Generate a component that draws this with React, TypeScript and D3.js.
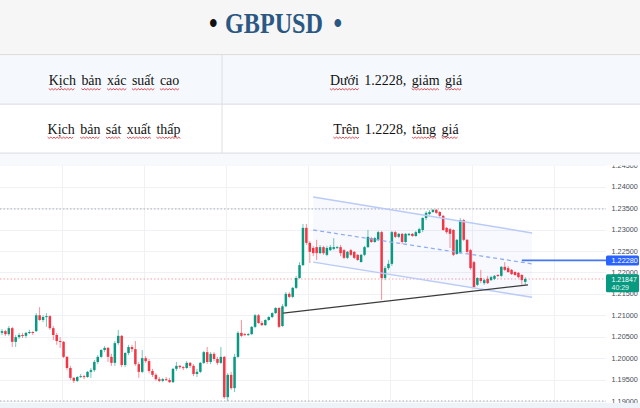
import React, { useEffect, useRef } from 'react';
import * as d3 from 'd3';

const TITLE = 'GBPUSD';
const ROW_LABELS = ['Kịch bản xác suất cao', 'Kịch bản sát xuất thấp'];
const ROW_VALUES = ['Dưới 1.2228, giảm giá', 'Trên 1.2228, tăng giá'];

const OPEN = [
  1.2059,1.2063,1.2056,1.2070,1.2038,1.2049,1.2054,1.2052,1.2059,1.2061,
  1.2063,1.2100,1.2089,1.2096,1.2098,1.2070,1.2054,1.2040,1.2038,1.2003,
  1.1977,1.1954,1.1947,1.1956,1.1958,1.1956,1.1968,1.1972,1.1991,1.2003,
  1.2019,1.2024,1.2003,1.1989,1.2035,1.2052,1.1984,1.2012,1.2026,1.2021,
  1.1986,1.1968,1.2000,1.1993,1.1970,1.1961,1.1951,1.1947,1.1951,1.1949,
  1.1944,1.1975,1.1982,1.1979,1.1977,1.1989,1.1982,1.1963,1.1968,1.1989,
  1.2014,1.1991,1.2010,1.1998,1.1989,1.2003,1.1909,1.1961,1.1930,1.2003,
  1.2059,1.2056,1.2054,1.2056,1.2073,1.2100,1.2082,1.2077,1.2089,1.2096,
  1.2105,1.2117,1.2075,1.2121,1.2150,1.2143,1.2164,1.2187,1.2217,1.2304,
  1.2269,1.2257,1.2259,1.2245,1.2259,1.2241,1.2252,1.2255,1.2257,1.2259,
  1.2252,1.2234,1.2252,1.2248,1.2241,1.2224,1.2241,1.2259,1.2280,1.2271,
  1.2276,1.2294,1.2187,1.2210,1.2220,1.2294,1.2283,1.2290,1.2271,1.2287,
  1.2290,1.2285,1.2292,1.2299,1.2327,1.2336,1.2341,1.2346,1.2341,1.2332,
  1.2304,1.2301,1.2299,1.2243,1.2245,1.2322,1.2276,1.2252,1.2224,1.2171,
  1.2187,1.2175,1.2185,1.2182,1.2185,1.2194,1.2192,1.2213,1.2210,1.2206,
  1.2201,1.2199,1.2194,1.2178,
];
const HIGH = [
  1.2068,1.2066,1.2075,1.2073,1.2054,1.2059,1.2059,1.2061,1.2066,1.2063,
  1.2105,1.2119,1.2100,1.2105,1.2100,1.2075,1.2059,1.2049,1.2040,1.2005,
  1.1982,1.1956,1.1958,1.1963,1.1961,1.1970,1.1977,1.1996,1.2007,1.2021,
  1.2028,1.2026,1.2010,1.2040,1.2066,1.2054,1.2014,1.2031,1.2031,1.2040,
  1.1991,1.2019,1.2005,1.1998,1.1975,1.1965,1.1956,1.1954,1.1956,1.1954,
  1.1977,1.1991,1.1984,1.1982,1.1993,1.1991,1.1986,1.1975,1.1991,1.2017,
  1.2026,1.2014,1.2014,1.2003,1.2026,1.2005,1.1965,1.1968,1.2010,1.2063,
  1.2089,1.2059,1.2059,1.2075,1.2103,1.2103,1.2087,1.2091,1.2098,1.2107,
  1.2119,1.2119,1.2126,1.2154,1.2154,1.2166,1.2192,1.2224,1.2313,1.2313,
  1.2273,1.2262,1.2276,1.2264,1.2262,1.2262,1.2264,1.2280,1.2262,1.2264,
  1.2255,1.2250,1.2255,1.2250,1.2243,1.2243,1.2262,1.2299,1.2283,1.2283,
  1.2297,1.2297,1.2215,1.2229,1.2297,1.2297,1.2292,1.2292,1.2292,1.2292,
  1.2292,1.2297,1.2304,1.2329,1.2343,1.2346,1.2348,1.2348,1.2343,1.2334,
  1.2306,1.2304,1.2301,1.2278,1.2327,1.2325,1.2278,1.2255,1.2227,1.2189,
  1.2206,1.2185,1.2192,1.2192,1.2194,1.2196,1.2215,1.2224,1.2215,1.2208,
  1.2203,1.2201,1.2196,1.2189,
];
const LOW = [
  1.2054,1.2052,1.2052,1.2026,1.2026,1.2045,1.2047,1.2047,1.2056,1.2054,
  1.2061,1.2087,1.2084,1.2073,1.2066,1.2042,1.2031,1.2024,1.2000,1.1972,
  1.1949,1.1942,1.1944,1.1954,1.1951,1.1954,1.1954,1.1968,1.1986,1.2000,
  1.2014,1.1991,1.1982,1.1982,1.2031,1.1979,1.1979,1.2007,1.2014,1.1982,
  1.1954,1.1965,1.1989,1.1965,1.1956,1.1947,1.1944,1.1944,1.1947,1.1942,
  1.1942,1.1970,1.1975,1.1972,1.1975,1.1977,1.1958,1.1956,1.1965,1.1986,
  1.1986,1.1986,1.1993,1.1984,1.1986,1.1905,1.1900,1.1926,1.1921,1.2000,
  1.2049,1.2052,1.2052,1.2054,1.2070,1.2080,1.2075,1.2075,1.2087,1.2093,
  1.2103,1.2070,1.2073,1.2119,1.2140,1.2140,1.2161,1.2185,1.2215,1.2264,
  1.2222,1.2238,1.2229,1.2243,1.2241,1.2238,1.2250,1.2252,1.2255,1.2238,
  1.2231,1.2231,1.2238,1.2231,1.2227,1.2224,1.2238,1.2257,1.2269,1.2269,
  1.2273,1.2136,1.2182,1.2206,1.2215,1.2280,1.2280,1.2266,1.2269,1.2285,
  1.2283,1.2283,1.2290,1.2294,1.2322,1.2334,1.2339,1.2336,1.2329,1.2297,
  1.2290,1.2257,1.2238,1.2241,1.2243,1.2273,1.2245,1.2206,1.2164,1.2168,
  1.2175,1.2171,1.2173,1.2180,1.2182,1.2189,1.2189,1.2203,1.2199,1.2194,
  1.2192,1.2187,1.2171,1.2171,
];
const CLOSE = [
  1.2063,1.2056,1.2070,1.2038,1.2049,1.2054,1.2052,1.2059,1.2061,1.2059,
  1.2100,1.2089,1.2096,1.2098,1.2070,1.2054,1.2040,1.2038,1.2003,1.1977,
  1.1954,1.1947,1.1956,1.1958,1.1956,1.1968,1.1972,1.1991,1.2003,1.2019,
  1.2024,1.2003,1.1989,1.2035,1.2052,1.1984,1.2012,1.2026,1.2021,1.1986,
  1.1968,1.2000,1.1993,1.1970,1.1961,1.1951,1.1947,1.1951,1.1949,1.1944,
  1.1975,1.1982,1.1979,1.1977,1.1989,1.1982,1.1963,1.1968,1.1989,1.2014,
  1.1991,1.2010,1.1998,1.1989,1.2003,1.1909,1.1961,1.1930,1.2003,1.2059,
  1.2052,1.2054,1.2056,1.2073,1.2100,1.2082,1.2077,1.2089,1.2096,1.2105,
  1.2117,1.2073,1.2121,1.2150,1.2143,1.2164,1.2187,1.2217,1.2304,1.2269,
  1.2248,1.2245,1.2245,1.2259,1.2245,1.2257,1.2259,1.2259,1.2259,1.2245,
  1.2234,1.2248,1.2241,1.2234,1.2229,1.2241,1.2259,1.2283,1.2271,1.2280,
  1.2294,1.2187,1.2210,1.2220,1.2294,1.2283,1.2290,1.2271,1.2290,1.2290,
  1.2285,1.2294,1.2301,1.2327,1.2339,1.2341,1.2346,1.2339,1.2332,1.2299,
  1.2294,1.2290,1.2241,1.2276,1.2322,1.2276,1.2248,1.2210,1.2166,1.2187,
  1.2180,1.2182,1.2175,1.2189,1.2192,1.2192,1.2213,1.2206,1.2201,1.2196,
  1.2194,1.2189,1.2182,1.21847,
];

const PRICE_TICKS = [1.19, 1.195, 1.2, 1.205, 1.21, 1.215, 1.22, 1.225, 1.23, 1.235, 1.24, 1.245];
const DAY_BREAKS = [17.5, 41.5, 65.5, 89.5, 113.5, 137.5, 161.5];

const LEVEL = 1.2228;
const LEVEL_START = 152;
const COUNTDOWN = '40:29';

const CHANNEL_IDX = [91, 155];
const CHANNEL_UPPER = [1.2376, 1.2292];
const CHANNEL_MID = [1.2299, 1.222];
const CHANNEL_LOWER = [1.2224, 1.2142];

const TREND_IDX = [82.2, 153.8];
const TREND_PRICE = [1.2105, 1.2171];

const UP = '#089981';
const DOWN = '#f23645';

export default function App() {
  const ref = useRef<SVGSVGElement>(null);

  useEffect(() => {
    document.body.style.margin = '0';
    const svg = d3.select(ref.current);
    svg.selectAll('*').remove();
    const W = 640, H = 408;

    // ---------- header ----------
    svg.append('rect').attr('x', 0).attr('y', 0).attr('width', W).attr('height', 54).attr('fill', '#f6f6f6');
    svg.append('rect').attr('x', 0).attr('y', 54).attr('width', W).attr('height', 1.5).attr('fill', '#dedede');
    const serif = '"Liberation Serif", "Times New Roman", serif';
    const title = svg.append('g').attr('transform', 'translate(0,33) scale(1,1.16)');
    title.append('text').attr('x', 209).attr('y', 0).attr('font-family', serif).attr('font-weight', 'bold')
      .attr('font-size', 24.5).attr('fill', '#111').text('•');
    title.append('text').attr('x', 225).attr('y', 0).attr('font-family', serif).attr('font-weight', 'bold')
      .attr('font-size', 24.5).attr('fill', '#2b5882').attr('textLength', 98).attr('lengthAdjust', 'spacingAndGlyphs').text(TITLE);
    title.append('text').attr('x', 333.5).attr('y', 0).attr('font-family', serif).attr('font-weight', 'bold')
      .attr('font-size', 24.5).attr('fill', '#2b5882').text('•');

    // ---------- table ----------
    const rowTop = [55.5, 104];
    const rowH = [48, 48.5];
    const rowBg = ['#f5f9fe', '#ffffff'];
    rowTop.forEach((t, i) => {
      svg.append('rect').attr('x', 0).attr('y', t).attr('width', W).attr('height', rowH[i]).attr('fill', rowBg[i]);
    });
    [103.5, 152.5].forEach((yy) => {
      svg.append('rect').attr('x', 0).attr('y', yy).attr('width', W).attr('height', 1.2).attr('fill', '#dcdfe4');
    });
    svg.append('rect').attr('x', 221.5).attr('y', 55).attr('width', 1).attr('height', 98).attr('fill', '#dcdfe4');

    const baselines = [85, 133.5];
    const centers = [114, 396];
    const gap = 5.5;
    const drawRow = (str: string, cx: number, base: number) => {
      const words = str.split(' ');
      const g = svg.append('g');
      const nodes = words.map((w) =>
        g.append('text').attr('y', base).attr('font-family', serif).attr('font-size', 15.5).attr('fill', '#111').text(w)
      );
      const widths = nodes.map((n) => (n.node() as SVGTextElement).getComputedTextLength() * 0.9);
      const total = d3.sum(widths) + gap * (words.length - 1);
      let cur = cx - total / 2;
      nodes.forEach((n, k) => {
        n.attr('x', cur).attr('textLength', widths[k]).attr('lengthAdjust', 'spacingAndGlyphs');
        if (!/\d/.test(words[k])) {
          const pts: [number, number][] = [];
          for (let xx = 0, j = 0; xx <= widths[k]; xx += 1.6, j++) {
            pts.push([cur + xx, base + 3.6 + (j % 2 === 0 ? 0 : 1.3)]);
          }
          g.append('path').attr('d', d3.line()(pts) as string).attr('fill', 'none')
            .attr('stroke', '#e0202a').attr('stroke-width', 0.8);
        }
        cur += widths[k] + gap;
      });
    };
    ROW_LABELS.forEach((s, i) => drawRow(s, centers[0], baselines[i]));
    ROW_VALUES.forEach((s, i) => drawRow(s, centers[1], baselines[i]));

    // ---------- chart ----------
    const chartTop = 165.5, chartBottom = 403, plotRight = 606;
    svg.append('rect').attr('x', 0).attr('y', 154).attr('width', W).attr('height', chartTop - 154).attr('fill', '#f7f9fc');
    svg.append('rect').attr('x', 0).attr('y', chartBottom).attr('width', W).attr('height', H - chartBottom).attr('fill', '#eef3f9');
    svg.append('rect').attr('x', 0).attr('y', chartTop).attr('width', W).attr('height', chartBottom - chartTop).attr('fill', '#ffffff');

    const defs = svg.append('defs');
    defs.append('clipPath').attr('id', 'chartClip').append('rect')
      .attr('x', 0).attr('y', chartTop).attr('width', W).attr('height', chartBottom - chartTop);
    defs.append('clipPath').attr('id', 'plotClip').append('rect')
      .attr('x', 0).attr('y', chartTop).attr('width', plotRight).attr('height', chartBottom - chartTop);

    const n = CLOSE.length;
    const step = 3.42;
    const x = d3.scaleLinear().domain([0, n - 1]).range([2, 2 + step * (n - 1)]);
    const y = d3.scaleLinear().domain([1.19, 1.24]).range([401, 186.7]);

    const chart = svg.append('g').attr('clip-path', 'url(#chartClip)');
    const plot = chart.append('g').attr('clip-path', 'url(#plotClip)');

    // grid
    plot.selectAll('line.hg').data(PRICE_TICKS).join('line')
      .attr('x1', 0).attr('x2', plotRight)
      .attr('y1', (d) => Math.round(y(d)) + 0.5).attr('y2', (d) => Math.round(y(d)) + 0.5)
      .attr('stroke', '#f0f1f4').attr('stroke-width', 1);
    plot.selectAll('line.vg').data(DAY_BREAKS).join('line')
      .attr('x1', (d) => Math.round(x(d)) + 0.5).attr('x2', (d) => Math.round(x(d)) + 0.5)
      .attr('y1', chartTop).attr('y2', chartBottom)
      .attr('stroke', '#f0f1f4').attr('stroke-width', 1);

    // high / low dotted lines
    const hi = d3.max(HIGH) as number;
    const lo = d3.min(LOW) as number;
    [hi, lo].forEach((p) => {
      plot.append('line').attr('x1', 0).attr('x2', plotRight)
        .attr('y1', y(p)).attr('y2', y(p))
        .attr('stroke', '#a9adb6').attr('stroke-width', 1).attr('stroke-dasharray', '1.5 2');
    });
    // current price line
    const last = CLOSE[n - 1];
    plot.append('line').attr('x1', 0).attr('x2', plotRight)
      .attr('y1', y(last)).attr('y2', y(last))
      .attr('stroke', '#f4a0a8').attr('stroke-width', 1).attr('stroke-dasharray', '1.5 2');

    // channel fill
    const up = CHANNEL_IDX.map((d, i) => [x(d), y(CHANNEL_UPPER[i])] as [number, number]);
    const mid = CHANNEL_IDX.map((d, i) => [x(d), y(CHANNEL_MID[i])] as [number, number]);
    const lw = CHANNEL_IDX.map((d, i) => [x(d), y(CHANNEL_LOWER[i])] as [number, number]);
    plot.append('path').attr('d', (d3.line()([up[0], up[1], lw[1], lw[0]]) as string) + 'Z')
      .attr('fill', 'rgba(41,98,255,0.035)');

    // candles
    const idx = d3.range(n);
    const bw = 2.5;
    plot.selectAll('line.wick').data(idx).join('line')
      .attr('x1', (i) => x(i)).attr('x2', (i) => x(i))
      .attr('y1', (i) => y(HIGH[i])).attr('y2', (i) => y(LOW[i]))
      .attr('stroke', (i) => (CLOSE[i] >= OPEN[i] ? UP : DOWN))
      .attr('stroke-opacity', 0.55).attr('stroke-width', 1);
    plot.selectAll('rect.body').data(idx).join('rect')
      .attr('x', (i) => x(i) - bw / 2)
      .attr('y', (i) => y(Math.max(OPEN[i], CLOSE[i])))
      .attr('width', bw)
      .attr('height', (i) => Math.max(1, Math.abs(y(OPEN[i]) - y(CLOSE[i]))))
      .attr('fill', (i) => (CLOSE[i] >= OPEN[i] ? UP : DOWN));

    // channel lines
    plot.append('path').attr('d', d3.line()(up) as string).attr('stroke', '#b9cbf6').attr('stroke-width', 1.5).attr('fill', 'none');
    plot.append('path').attr('d', d3.line()(lw) as string).attr('stroke', '#b9cbf6').attr('stroke-width', 1.5).attr('fill', 'none');
    plot.append('path').attr('d', d3.line()(mid) as string).attr('stroke', '#93adf0').attr('stroke-width', 1.3)
      .attr('stroke-dasharray', '4 3').attr('fill', 'none');

    // trend line
    const tr = TREND_IDX.map((d, i) => [x(d), y(TREND_PRICE[i])] as [number, number]);
    plot.append('path').attr('d', d3.line()(tr) as string).attr('stroke', '#3b3b3b').attr('stroke-width', 1.1).attr('fill', 'none');

    // level line
    plot.append('line').attr('x1', x(LEVEL_START)).attr('x2', plotRight)
      .attr('y1', y(LEVEL)).attr('y2', y(LEVEL))
      .attr('stroke', '#4477f2').attr('stroke-width', 1.8);

    // axis labels
    const fmt = d3.format('.5f');
    const sans = '"Liberation Sans", Arial, sans-serif';
    chart.selectAll('text.tick').data(PRICE_TICKS).join('text')
      .attr('x', 611.5).attr('y', (d) => y(d)).attr('dy', '0.35em')
      .attr('font-family', sans).attr('font-size', 7.3).attr('fill', '#4a4d55')
      .text((d) => fmt(d));

    // level label
    const ly = y(LEVEL);
    chart.append('rect').attr('x', 606).attr('y', ly - 5).attr('width', 33).attr('height', 10).attr('rx', 1.5).attr('fill', '#2962ff');
    chart.append('text').attr('x', 611.5).attr('y', ly).attr('dy', '0.35em').attr('font-family', sans)
      .attr('font-size', 7.3).attr('fill', '#ffffff').text(fmt(LEVEL));

    // current price label
    const cy = y(last);
    chart.append('rect').attr('x', 606).attr('y', cy - 4.8).attr('width', 33).attr('height', 18).attr('rx', 1.5).attr('fill', UP);
    chart.append('text').attr('x', 611.5).attr('y', cy + 1).attr('dy', '0.35em').attr('font-family', sans)
      .attr('font-size', 7).attr('fill', '#ffffff').text(fmt(last));
    chart.append('text').attr('x', 611.5).attr('y', cy + 8.4).attr('dy', '0.35em').attr('font-family', sans)
      .attr('font-size', 7).attr('fill', '#e6f5f2').text(COUNTDOWN);
  }, []);

  return (
    <svg
      ref={ref}
      width={640}
      height={408}
      style={{ position: 'absolute', left: 0, top: 0, display: 'block' }}
    />
  );
}
